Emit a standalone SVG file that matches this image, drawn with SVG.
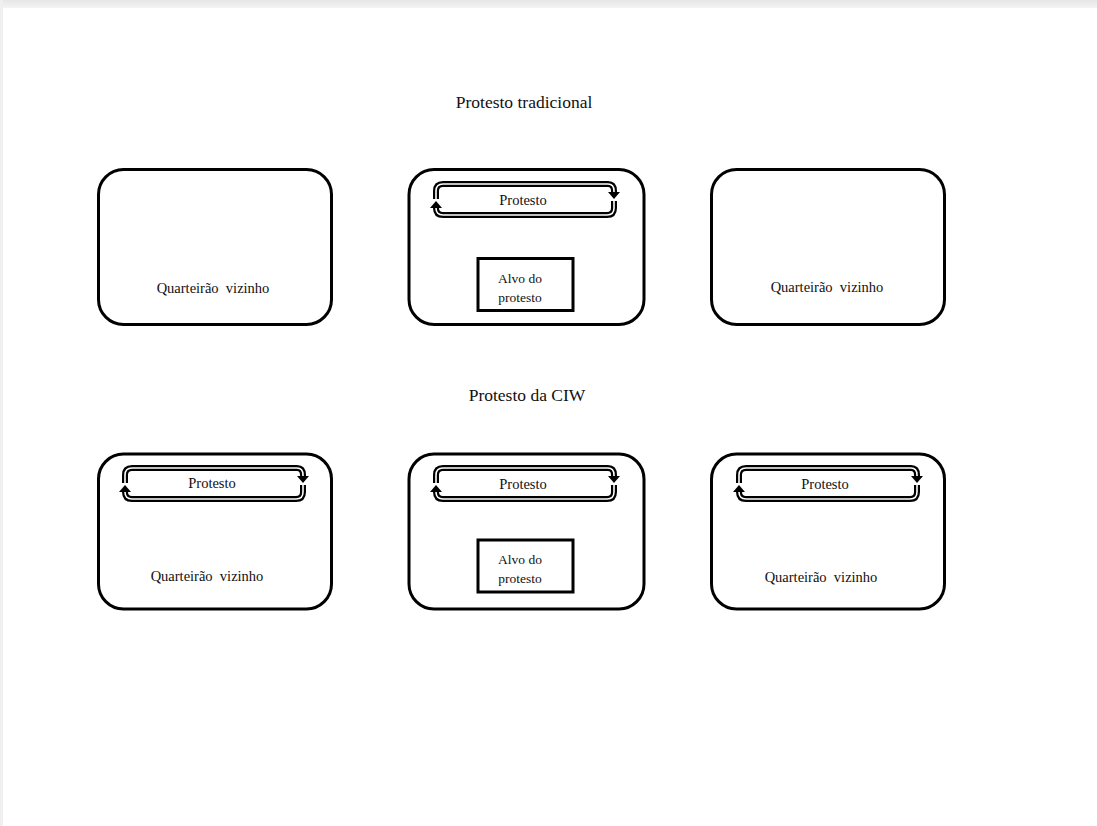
<svg xmlns="http://www.w3.org/2000/svg" xmlns:xlink="http://www.w3.org/1999/xlink" width="1097" height="826" viewBox="0 0 1097 826">
<defs>
<style>
.block{fill:#fff;stroke:#000;stroke-width:3}
.target{fill:#fff;stroke:#000;stroke-width:3}
.t{font-family:"Liberation Serif","Times New Roman",serif;fill:#111;text-anchor:middle;white-space:pre}
.title{font-size:17.5px}
.lbl{font-size:14.5px}
.prot{font-size:14.5px}
.alvo{font-size:13.5px}
.outer{fill:none;stroke:#000;stroke-width:6;stroke-linejoin:round}
.inner{fill:none;stroke:#fff;stroke-width:1.6;stroke-linejoin:round}
.head{fill:#000}
</style>
<linearGradient id="topShade" x1="0" y1="0" x2="0" y2="1">
<stop offset="0" stop-color="#e6e6e6"/>
<stop offset="1" stop-color="#f4f4f4"/>
</linearGradient>
<g id="loopShape">
<path class="outer" d="M0 15 L0 7 Q0 0 7 0 L172 0 Q178 0 178 7 L178 9"/>
<path class="outer" d="M178 17 L178 24 Q178 31 171 31 L7 31 Q0 31 0 24 L0 23"/>
<path class="inner" d="M0 15 L0 7 Q0 0 7 0 L172 0 Q178 0 178 7 L178 9"/>
<path class="inner" d="M178 17 L178 24 Q178 31 171 31 L7 31 Q0 31 0 24 L0 23"/>
<path class="head" d="M172 8 L184 8 L178 15 Z"/>
<path class="head" d="M-6 24 L6 24 L0 17 Z"/>
</g>
</defs>
<rect width="1097" height="826" fill="#fff"/>
<rect width="1097" height="8" fill="url(#topShade)"/>
<rect width="3" height="826" fill="#f0f0f0"/>

<g id="title-traditional"><text class="t title" x="524" y="108">Protesto tradicional</text></g>
<g id="title-ciw"><text class="t title" x="527" y="401">Protesto da CIW</text></g>

<g id="block-top-left">
<rect class="block" x="98.5" y="169.5" width="233" height="155" rx="25"/>
<text class="t lbl" x="213" y="293" xml:space="preserve">Quarteirão  vizinho</text>
</g>
<g id="block-top-middle">
<rect class="block" x="409" y="169.5" width="235" height="155" rx="25"/>
<text class="t prot" x="523" y="205">Protesto</text>
<rect class="target" x="478" y="258.5" width="95" height="52"/>
<text class="t alvo" x="520" y="283">Alvo do</text>
<text class="t alvo" x="520" y="302">protesto</text>
</g>
<g id="block-top-right">
<rect class="block" x="711.5" y="169.5" width="233" height="155" rx="25"/>
<text class="t lbl" x="827" y="292" xml:space="preserve">Quarteirão  vizinho</text>
</g>

<g id="block-bottom-left">
<rect class="block" x="98.5" y="454" width="233" height="155" rx="25"/>
<text class="t prot" x="212" y="488">Protesto</text>
<text class="t lbl" x="207" y="581" xml:space="preserve">Quarteirão  vizinho</text>
</g>
<g id="block-bottom-middle">
<rect class="block" x="409" y="454" width="235" height="155" rx="25"/>
<text class="t prot" x="523" y="489">Protesto</text>
<rect class="target" x="478" y="540" width="95" height="52"/>
<text class="t alvo" x="520" y="564">Alvo do</text>
<text class="t alvo" x="520" y="583">protesto</text>
</g>
<g id="block-bottom-right">
<rect class="block" x="711.5" y="454" width="233" height="155" rx="25"/>
<text class="t prot" x="825" y="489">Protesto</text>
<text class="t lbl" x="821" y="582" xml:space="preserve">Quarteirão  vizinho</text>
</g>

<g id="connectors">
<use xlink:href="#loopShape" transform="translate(436,184)"/>
<use xlink:href="#loopShape" transform="translate(125,468)"/>
<use xlink:href="#loopShape" transform="translate(436,468)"/>
<use xlink:href="#loopShape" transform="translate(739,468)"/>
</g>
</svg>
